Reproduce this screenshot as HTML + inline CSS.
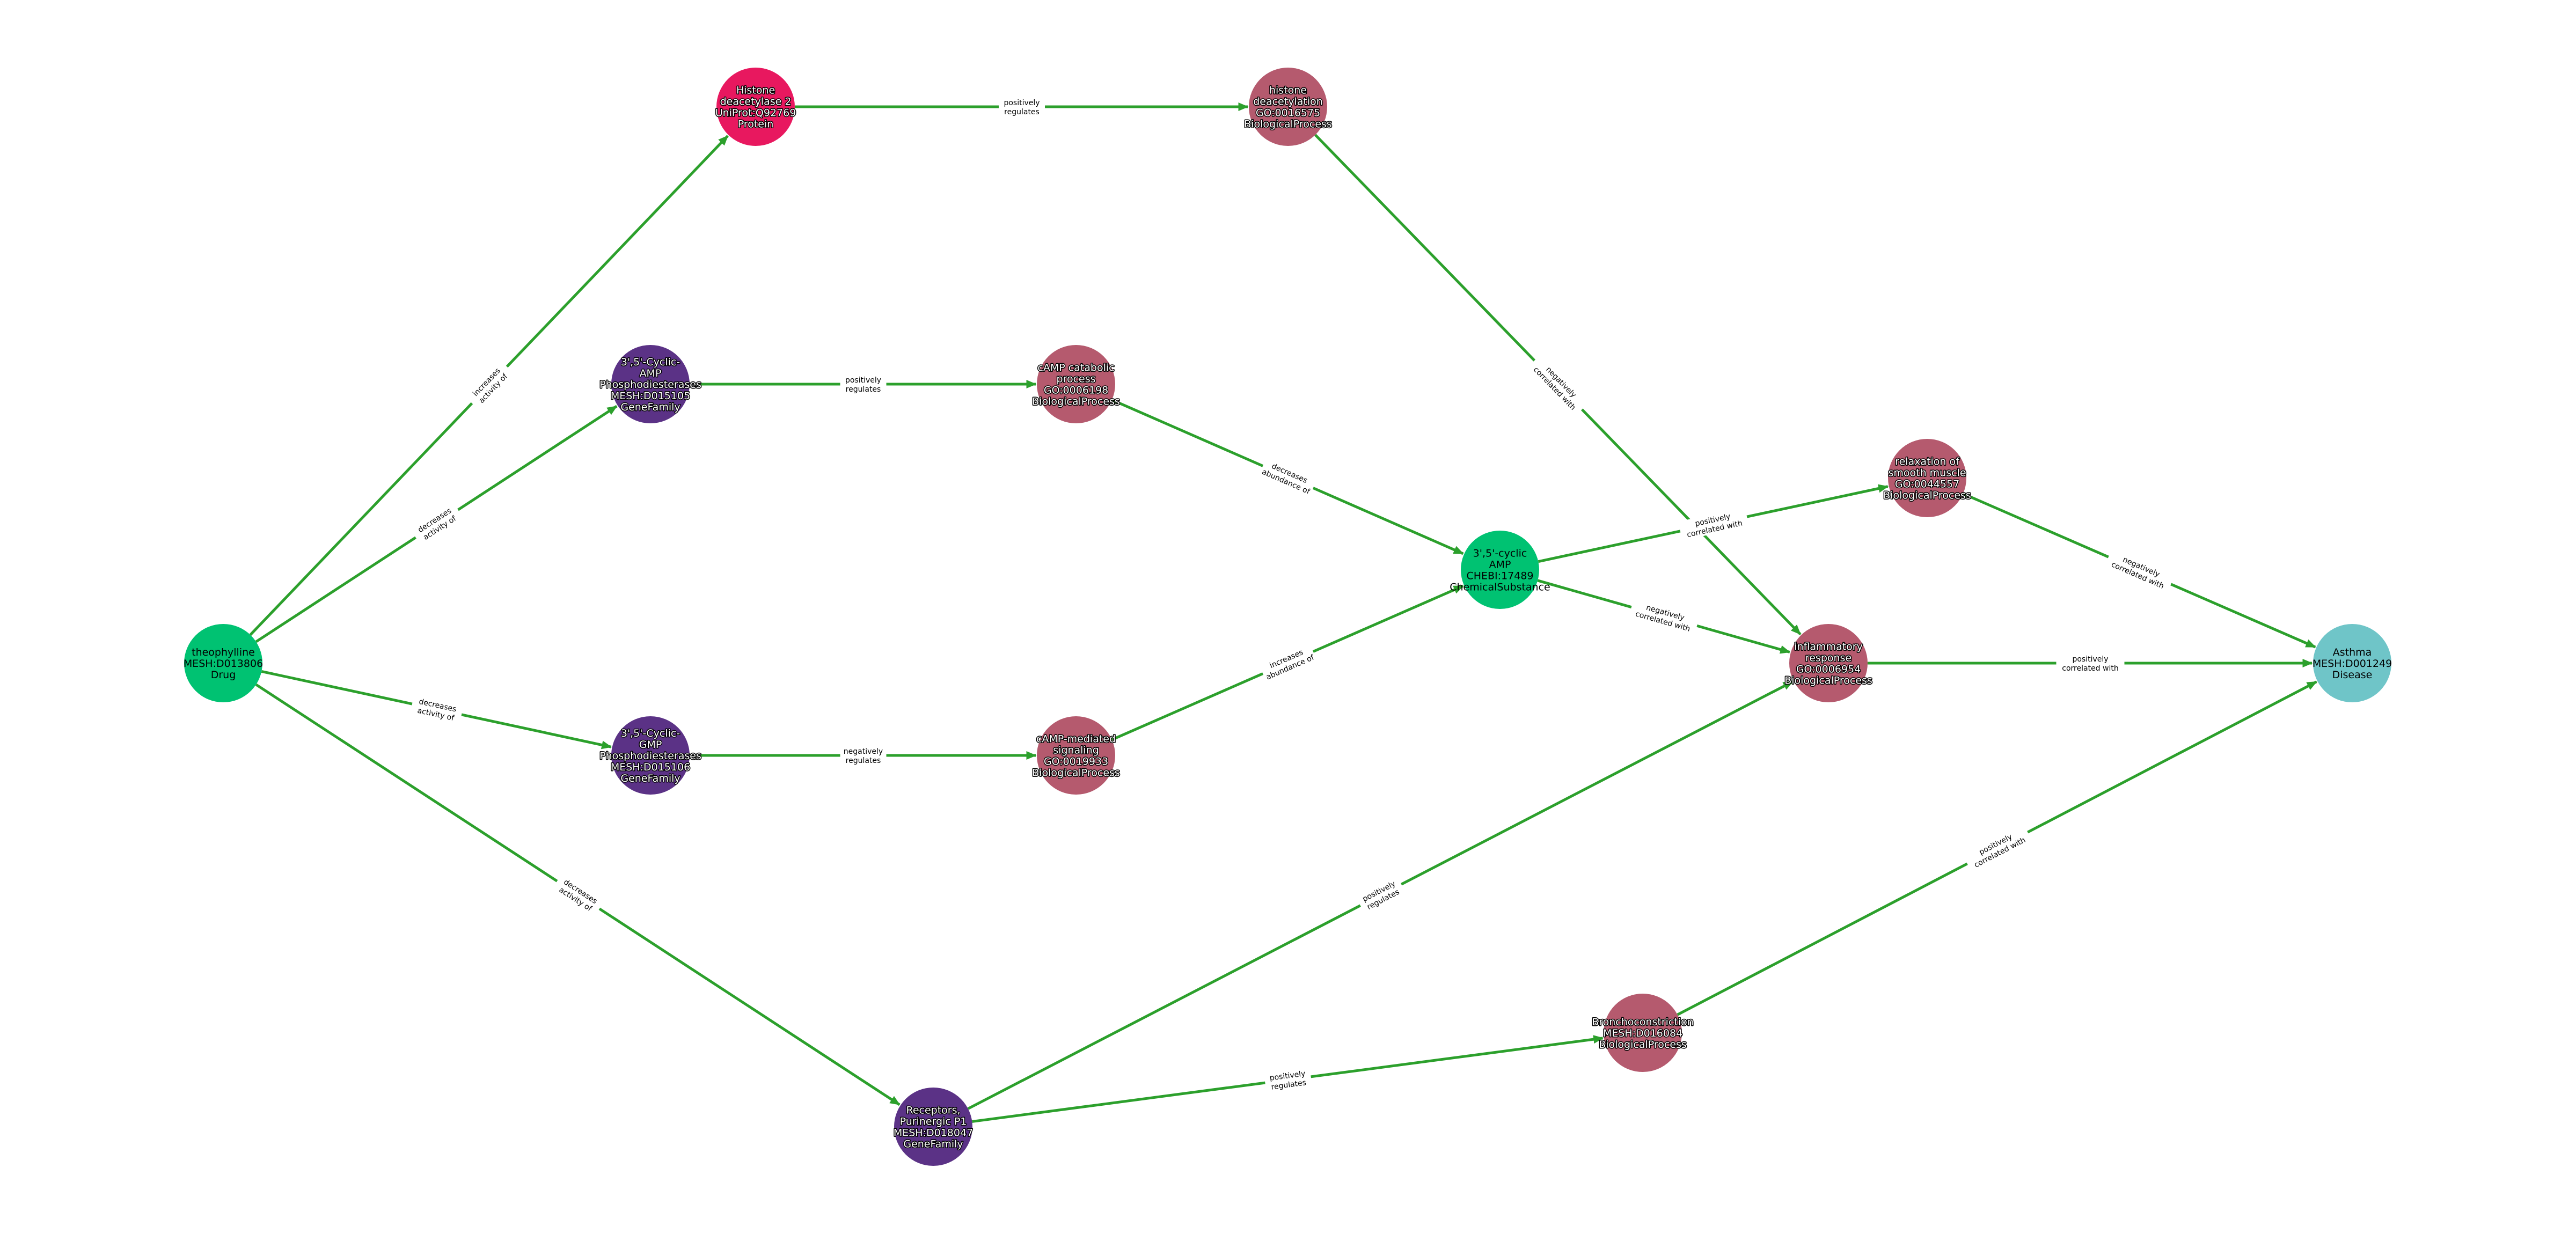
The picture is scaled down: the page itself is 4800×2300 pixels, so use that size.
<!DOCTYPE html>
<html><head><meta charset="utf-8"><style>
html,body{margin:0;padding:0;background:#fff;width:4800px;height:2300px;overflow:hidden}
svg{display:block}
.nl{font-family:"DejaVu Sans","Liberation Sans",sans-serif;font-size:19px;text-anchor:middle}
.w{fill:#fff;stroke:#000;stroke-width:3px;paint-order:stroke;stroke-linejoin:round}
.b{fill:#000}
.el{font-family:"DejaVu Sans","Liberation Sans",sans-serif;font-size:14px;text-anchor:middle;fill:#000}
</style></head><body>
<svg id="s" width="4800" height="2300" viewBox="0 0 4800 2300" xmlns="http://www.w3.org/2000/svg">
<defs><marker id="a" markerWidth="4" markerHeight="4" refX="3.5" refY="2" orient="auto" markerUnits="strokeWidth"><path d="M0,0.4 L3.8,2 L0,3.6 z" fill="#2ca02c"/></marker></defs>
<g id="E"></g><g id="L"></g><g id="N"></g>
</svg>
<script>
var R=73;
var N={
theo:[416,1236,"#00c272","b",["theophylline","MESH:D013806","Drug"]],
hdac:[1408,199,"#e8185f","w",["Histone","deacetylase 2","UniProt:Q92769","Protein"]],
pdea:[1212,716,"#5b3286","w",["3',5'-Cyclic-","AMP","Phosphodiesterases","MESH:D015105","GeneFamily"]],
pdeg:[1212,1408,"#5b3286","w",["3',5'-Cyclic-","GMP","Phosphodiesterases","MESH:D015106","GeneFamily"]],
p1:[1739,2100,"#5b3286","w",["Receptors,","Purinergic P1","MESH:D018047","GeneFamily"]],
hd:[2400,199,"#b55a6e","w",["histone","deacetylation","GO:0016575","BiologicalProcess"]],
cc:[2005,716,"#b55a6e","w",["cAMP catabolic","process","GO:0006198","BiologicalProcess"]],
cm:[2005,1408,"#b55a6e","w",["cAMP-mediated","signaling","GO:0019933","BiologicalProcess"]],
br:[3061,1925,"#b55a6e","w",["Bronchoconstriction","MESH:D016084","BiologicalProcess"]],
camp:[2795,1062,"#00c272","b",["3',5'-cyclic","AMP","CHEBI:17489","ChemicalSubstance"]],
rel:[3591,891,"#b55a6e","w",["relaxation of","smooth muscle","GO:0044557","BiologicalProcess"]],
inf:[3407,1236,"#b55a6e","w",["inflammatory","response","GO:0006954","BiologicalProcess"]],
ast:[4383,1236,"#6fc5c8","b",["Asthma","MESH:D001249","Disease"]]
};
var E=[
["theo","hdac","increases","activity of"],["theo","pdea","decreases","activity of"],["theo","pdeg","decreases","activity of"],["theo","p1","decreases","activity of"],
["hdac","hd","positively","regulates"],["pdea","cc","positively","regulates"],["pdeg","cm","negatively","regulates"],
["cc","camp","decreases","abundance of"],["cm","camp","increases","abundance of"],
["hd","inf","negatively","correlated with"],["camp","rel","positively","correlated with"],["camp","inf","negatively","correlated with"],
["rel","ast","negatively","correlated with"],["inf","ast","positively","correlated with"],
["p1","inf","positively","regulates"],["p1","br","positively","regulates"],["br","ast","positively","correlated with"]];
var ns="http://www.w3.org/2000/svg";
function el(t,a,p){var e=document.createElementNS(ns,t);for(var k in a)e.setAttribute(k,a[k]);p.appendChild(e);return e;}
var Eg=document.getElementById("E"),Lg=document.getElementById("L"),Ng=document.getElementById("N");
E.forEach(function(e){var a=N[e[0]],b=N[e[1]];var dx=b[0]-a[0],dy=b[1]-a[1],d=Math.hypot(dx,dy),ux=dx/d,uy=dy/d;
el("line",{x1:a[0]+ux*R,y1:a[1]+uy*R,x2:b[0]-ux*(R+2),y2:b[1]-uy*(R+2),stroke:"#2ca02c","stroke-width":5,"marker-end":"url(#a)"},Eg);
var mx=(a[0]+b[0])/2,my=(a[1]+b[1])/2,ang=Math.atan2(dy,dx)*180/Math.PI;if(ang>90)ang-=180;if(ang<-90)ang+=180;
var g=el("g",{transform:"translate("+mx+","+my+") rotate("+ang+")"},Lg);
var w=Math.max(e[2].length,e[3].length)*8.2+4;
el("rect",{x:-w/2,y:-18,width:w,height:36,fill:"#fff"},g);
var t1=el("text",{"class":"el",x:0,y:-3},g);t1.textContent=e[2];
var t2=el("text",{"class":"el",x:0,y:14},g);t2.textContent=e[3];});
for(var k in N){var n=N[k];el("circle",{cx:n[0],cy:n[1],r:R,fill:n[2]},Ng);
var L=n[4],lh=21,y0=n[1]-(L.length-1)*lh/2+7;
L.forEach(function(s,i){var t=el("text",{"class":"nl "+n[3],x:n[0],y:y0+i*lh},Ng);t.textContent=s;});}
</script>
</body></html>
